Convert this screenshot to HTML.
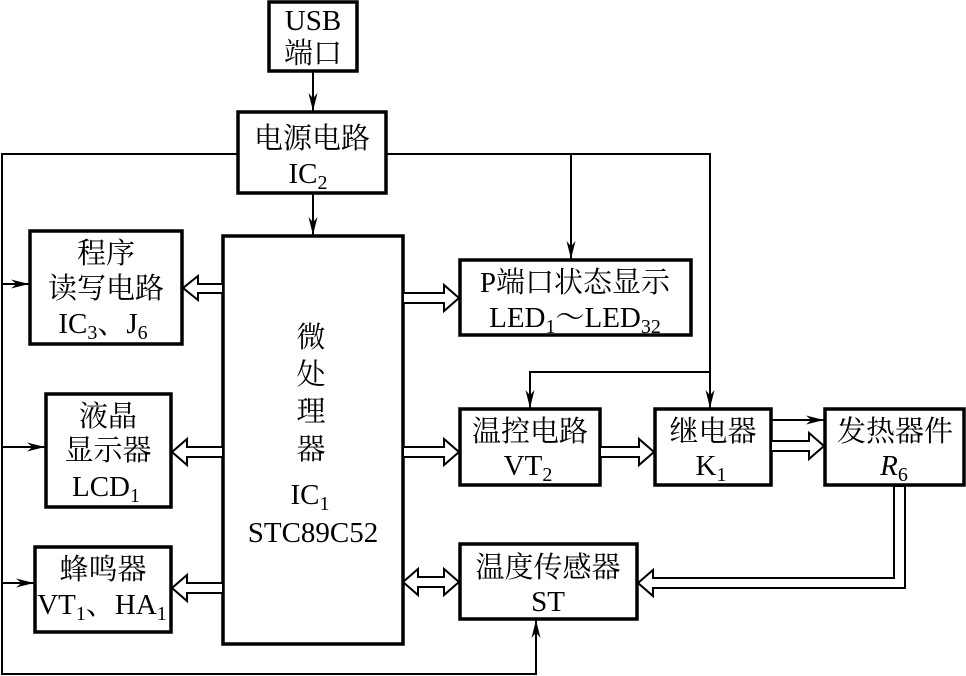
<!DOCTYPE html>
<html><head><meta charset="utf-8"><style>
body{margin:0;background:#fff}
svg{display:block}
text{font-family:"Liberation Serif","Noto Serif CJK SC","Noto Sans CJK SC",serif;font-size:29px;fill:#000;text-anchor:middle}
.s{font-size:20px}
</style></head><body>
<svg width="966" height="676" viewBox="0 0 966 676" xmlns="http://www.w3.org/2000/svg">
<defs><marker id="a" viewBox="0 0 20 10" refX="20" refY="5" markerWidth="18" markerHeight="9" markerUnits="userSpaceOnUse" orient="auto"><path d="M0,0 L20,5 L0,10 L6,5 Z" fill="#000"/></marker></defs>
<g fill="none" stroke="#000" stroke-width="3.5">
<rect x="269" y="2" width="88" height="69"/>
<rect x="238" y="112" width="148" height="81"/>
<rect x="223" y="236" width="180" height="408"/>
<rect x="30" y="231" width="152" height="113"/>
<rect x="46" y="394" width="125" height="113"/>
<rect x="35" y="547" width="136" height="85"/>
<rect x="460" y="260" width="231" height="75"/>
<rect x="460" y="409" width="140" height="76"/>
<rect x="655" y="409" width="116" height="76"/>
<rect x="825" y="409" width="139" height="76"/>
<rect x="460" y="544" width="177" height="75"/>
</g>
<g fill="none" stroke="#000" stroke-width="2">
<line x1="313" y1="71" x2="313" y2="111" marker-end="url(#a)"/>
<line x1="313" y1="193" x2="313" y2="235" marker-end="url(#a)"/>
<polyline points="238,154 2,154 2,674 536,674 536,620" marker-end="url(#a)"/>
<line x1="2" y1="284" x2="29" y2="284" marker-end="url(#a)"/>
<line x1="2" y1="447" x2="45" y2="447" marker-end="url(#a)"/>
<line x1="2" y1="583" x2="34" y2="583" marker-end="url(#a)"/>
<polyline points="386,154 710,154 710,408" marker-end="url(#a)"/>
<line x1="571" y1="154" x2="571" y2="259" marker-end="url(#a)"/>
<polyline points="710,372 530,372 530,408" marker-end="url(#a)"/>
<line x1="771" y1="420" x2="824" y2="420" marker-end="url(#a)"/>
</g>
<g fill="#fff" stroke="#000" stroke-width="2">
<polygon points="223,284 198,284 198,276 183,288 198,300 198,293 223,293"/>
<polygon points="403,293 444,293 444,285 459,298 444,311 444,303 403,303"/>
<polygon points="223,447 187,447 187,439 172,452 187,465 187,457 223,457"/>
<polygon points="403,447 444,447 444,439 459,452 444,465 444,457 403,457"/>
<polygon points="223,583 187,583 187,575 172,588 187,601 187,593 223,593"/>
<polygon points="403,582 418,569 418,577 444,577 444,569 459,582 444,595 444,587 418,587 418,595"/>
<polygon points="600,447 639,447 639,439 654,452 639,465 639,457 600,457"/>
<polygon points="771,441 809,441 809,433 824,446 809,459 809,451 771,451"/>
<polygon points="894,486 894,578 653,578 653,570 638,583 653,596 653,588 905,588 905,486"/>
</g>
<text x="313" y="30">USB</text><text x="313" y="63">端口</text>
<text x="312" y="148">电源电路</text><text x="308" y="183">IC<tspan class="s" dy="6">2</tspan></text>
<text x="106" y="263">程序</text><text x="106" y="298">读写电路</text><text x="103" y="333">IC<tspan class="s" dy="6">3</tspan><tspan dy="-6">、J</tspan><tspan class="s" dy="6">6</tspan></text>
<text x="108" y="426">液晶</text><text x="108" y="460">显示器</text><text x="106" y="496">LCD<tspan class="s" dy="6">1</tspan></text>
<text x="103" y="579">蜂鸣器</text><text x="102" y="614">VT<tspan class="s" dy="6">1</tspan><tspan dy="-6">、HA</tspan><tspan class="s" dy="6">1</tspan></text>
<text x="311" y="347">微</text><text x="311" y="384">处</text><text x="311" y="421">理</text><text x="311" y="459">器</text>
<text x="310" y="504">IC<tspan class="s" dy="6">1</tspan></text><text x="313" y="542">STC89C52</text>
<text x="575" y="292">P端口状态显示</text><text x="575" y="327">LED<tspan class="s" dy="6">1</tspan><tspan dy="-6">～LED</tspan><tspan class="s" dy="6">32</tspan></text>
<text x="530" y="441">温控电路</text><text x="528" y="475">VT<tspan class="s" dy="6">2</tspan></text>
<text x="713" y="441">继电器</text><text x="711" y="475">K<tspan class="s" dy="6">1</tspan></text>
<text x="895" y="441">发热器件</text><text x="894" y="475"><tspan font-style="italic">R</tspan><tspan class="s" dy="6">6</tspan></text>
<text x="548" y="577">温度传感器</text><text x="548" y="611">ST</text>
</svg>
</body></html>
